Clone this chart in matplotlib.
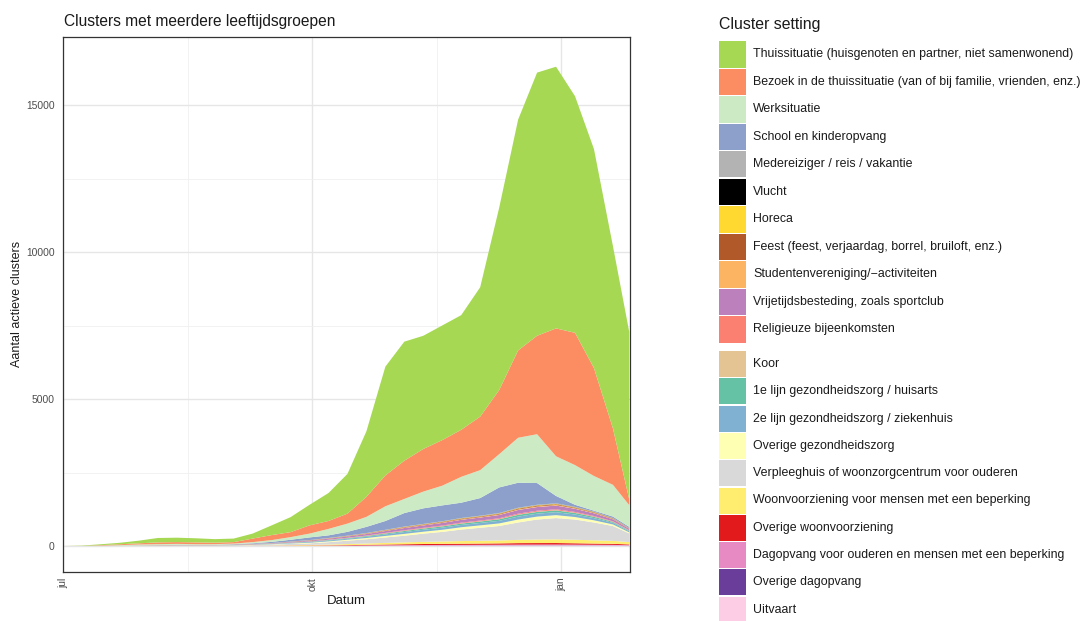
import numpy as np
import pandas as pd
import matplotlib
matplotlib.use('Agg')
import matplotlib.pyplot as plt
import matplotlib.dates as mdates
from matplotlib.patches import Rectangle

plt.rcParams['font.family'] = ['Liberation Sans', 'DejaVu Sans']

# ---------------- data (weekly readings, Jul 2020 - Jan 2021) ----------------
dates = pd.date_range('2020-07-01', periods=30, freq='7D').append(pd.DatetimeIndex(['2021-01-26']))

labels = [
    "Thuissituatie (huisgenoten en partner, niet samenwonend)",
    "Bezoek in de thuissituatie (van of bij familie, vrienden, enz.)",
    "Werksituatie",
    "School en kinderopvang",
    "Medereiziger / reis / vakantie",
    "Vlucht",
    "Horeca",
    "Feest (feest, verjaardag, borrel, bruiloft, enz.)",
    "Studentenvereniging/\u2212activiteiten",
    "Vrijetijdsbesteding, zoals sportclub",
    "Religieuze bijeenkomsten",
    "Koor",
    "1e lijn gezondheidszorg / huisarts",
    "2e lijn gezondheidszorg / ziekenhuis",
    "Overige gezondheidszorg",
    "Verpleeghuis of woonzorgcentrum voor ouderen",
    "Woonvoorziening voor mensen met een beperking",
    "Overige woonvoorziening",
    "Dagopvang voor ouderen en mensen met een beperking",
    "Overige dagopvang",
    "Uitvaart",
]

colors = ["#A6D854", "#FC8D62", "#CCEBC5", "#8DA0CB", "#B3B3B3", "#000000",
          "#FFD92F", "#B15928", "#FDB462", "#BC80BD", "#FB8072", "#E5C494",
          "#66C2A5", "#80B1D3", "#FFFFB3", "#D9D9D9", "#FFED6F", "#E31A1C",
          "#E78AC3", "#6A3D9A", "#FCCDE5"]

thuis = [0, 10, 30, 50, 90, 150, 150, 140, 120, 120, 170, 330, 510, 700, 950, 1350, 2230, 3700, 4050, 3850, 3900, 3900, 4400, 6200, 7850, 8950, 8900, 8050, 7450, 6200, 5700]
bezoek = [0, 2, 15, 30, 40, 60, 60, 60, 50, 50, 120, 170, 170, 280, 270, 340, 680, 1050, 1300, 1450, 1550, 1600, 1820, 2180, 2970, 3350, 4350, 4500, 3670, 1920, 200]
werk = [0, 3, 10, 20, 30, 30, 30, 20, 20, 20, 40, 60, 90, 130, 220, 280, 340, 500, 480, 570, 670, 880, 950, 1130, 1530, 1660, 1350, 1350, 1180, 1080, 740]
school = [0, 0, 0, 0, 0, 0, 0, 0, 0, 10, 20, 40, 60, 90, 90, 130, 210, 300, 460, 530, 540, 520, 600, 870, 850, 740, 250, 70, 30, 50, 40]
medereiziger = [0, 0, 1, 1, 3, 4, 5, 5, 5, 5, 4, 3, 3, 4, 5, 5, 6, 7, 8, 8, 9, 10, 10, 11, 12, 12, 12, 10, 9, 6, 4]
vlucht = [0, 0, 0, 0, 0, 0, 0, 0, 0, 0, 0, 0, 1, 1, 1, 2, 2, 3, 3, 3, 4, 4, 4, 4, 5, 5, 5, 4, 4, 3, 2]
horeca = [0, 0, 0, 0, 1, 1, 1, 1, 1, 1, 1, 1, 2, 3, 4, 5, 6, 8, 9, 10, 11, 12, 12, 13, 15, 15, 15, 13, 11, 8, 6]
feest = [0, 0, 1, 1, 1, 2, 3, 3, 3, 3, 2, 3, 4, 6, 7, 9, 11, 13, 16, 17, 18, 20, 21, 22, 25, 25, 25, 22, 19, 14, 10]
studenten = [0, 0, 0, 0, 0, 1, 1, 1, 1, 1, 2, 2, 3, 5, 6, 7, 8, 10, 12, 13, 14, 16, 16, 18, 20, 20, 20, 17, 15, 11, 8]
vrijetijd = [0, 0, 1, 2, 3, 5, 7, 7, 7, 8, 10, 12, 20, 27, 35, 43, 52, 64, 77, 82, 90, 97, 102, 110, 125, 125, 125, 107, 92, 68, 45]
religieus = [0, 0, 0, 0, 1, 1, 2, 2, 2, 2, 3, 3, 5, 7, 8, 10, 13, 16, 19, 20, 22, 23, 25, 26, 30, 30, 30, 26, 22, 16, 11]
koor = [0, 0, 0, 0, 0, 0, 0, 0, 0, 0, 1, 1, 2, 2, 3, 3, 4, 5, 6, 6, 7, 8, 8, 9, 10, 10, 10, 9, 7, 5, 4]
lijn1 = [0, 0, 0, 0, 1, 1, 2, 2, 2, 3, 4, 6, 10, 13, 17, 20, 25, 31, 37, 40, 43, 47, 49, 53, 60, 60, 60, 52, 44, 32, 22]
lijn2 = [0, 0, 0, 1, 2, 3, 4, 4, 4, 5, 8, 10, 16, 22, 28, 34, 42, 52, 62, 66, 72, 78, 82, 88, 100, 100, 100, 86, 74, 54, 35]
overig_gz = [0, 0, 0, 1, 2, 3, 4, 4, 4, 5, 8, 10, 16, 22, 28, 34, 42, 52, 62, 66, 72, 78, 82, 88, 100, 100, 100, 86, 74, 54, 35]
verpleeghuis = [0, 0, 2, 4, 7, 10, 11, 11, 12, 15, 20, 32, 42, 52, 79, 114, 144, 185, 225, 280, 326, 392, 442, 491, 592, 680, 724, 687, 607, 506, 296]
woonvoorz = [0, 0, 0, 0, 1, 2, 3, 3, 3, 4, 6, 10, 15, 20, 28, 36, 45, 55, 65, 72, 80, 90, 95, 100, 110, 120, 125, 120, 110, 100, 80]
overig_woon = [0, 0, 0, 0, 0, 0, 0, 0, 0, 0, 2, 3, 5, 8, 10, 14, 20, 25, 30, 35, 38, 40, 42, 45, 50, 50, 50, 45, 40, 35, 25]
dagopvang = [0, 0, 0, 0, 0, 0, 0, 0, 0, 1, 2, 3, 4, 5, 6, 8, 10, 12, 14, 15, 16, 17, 18, 18, 20, 20, 20, 18, 16, 14, 10]
overig_dag = [0, 0, 0, 0, 0, 0, 0, 0, 0, 0, 0, 0, 1, 1, 2, 2, 3, 3, 4, 4, 5, 5, 5, 6, 6, 6, 6, 6, 5, 5, 4]
uitvaart = [0, 0, 0, 0, 0, 0, 0, 0, 0, 0, 0, 2, 3, 4, 5, 6, 8, 10, 12, 14, 15, 16, 18, 20, 22, 24, 25, 24, 22, 20, 15]

series_top_to_bottom = [thuis, bezoek, werk, school, medereiziger, vlucht, horeca,
                        feest, studenten, vrijetijd, religieus, koor, lijn1, lijn2,
                        overig_gz, verpleeghuis, woonvoorz, overig_woon, dagopvang,
                        overig_dag, uitvaart]

y_ticks = [0, 5000, 10000, 15000]
x_tick_dates = ['2020-07-01', '2020-10-01', '2021-01-01']
x_tick_labels = ['jul', 'okt', 'jan']
x_minor_dates = ['2020-08-16', '2020-11-16']

# ---------------- figure ----------------
W, H = 1089, 621
fig = plt.figure(figsize=(W / 100, H / 100), dpi=100)
fig.patch.set_facecolor('white')

ax = fig.add_axes([63 / W, 1 - 572 / H, (630 - 63) / W, (572 - 37) / H])
ax.stackplot(dates, *series_top_to_bottom[::-1], colors=colors[::-1], linewidth=0)

ax.set_ylim(-884, 17313)
ax.set_xlim(pd.Timestamp('2020-07-01'), pd.Timestamp('2020-07-01') + pd.Timedelta(days=209.3))

ax.set_yticks(y_ticks)
ax.set_yticks([2500, 7500, 12500], minor=True)
ax.set_xticks(pd.to_datetime(x_tick_dates))
ax.set_xticklabels(x_tick_labels, rotation=90)
ax.set_xticks(pd.to_datetime(x_minor_dates), minor=True)

ax.set_axisbelow(True)
ax.grid(which='major', color='#E6E6E6', lw=1.0)
ax.grid(which='minor', color='#F0F0F0', lw=0.6)
ax.tick_params(which='both', length=0)
ax.tick_params(axis='y', labelsize=7.4, labelcolor='#4D4D4D', pad=6)
ax.tick_params(axis='x', labelsize=7.4, labelcolor='#4D4D4D', pad=4)
for s in ax.spines.values():
    s.set_color('#333333')
    s.set_linewidth(0.9)

fig.text(64 / W, 1 - 26 / H, 'Clusters met meerdere leeftijdsgroepen', fontsize=11.2,
         color='#1A1A1A', va='baseline', ha='left')
fig.text(346 / W, 1 - 601 / H, 'Datum', fontsize=9.5, color='#1A1A1A', ha='center', va='center')
fig.text(17 / W, 1 - 304 / H, 'Aantal actieve clusters', fontsize=9, color='#1A1A1A',
         ha='center', va='center', rotation=90)

# ---------------- legend ----------------
fig.text(719 / W, 1 - 25 / H, 'Cluster setting', fontsize=11.4, color='#1A1A1A', ha='left', va='center')
rows = []
for k in range(11):
    rows.append((41 + 27.5 * k, 26.5))
for k in range(10):
    rows.append((351 + 27.3 * k, 26.0))
for (top, h), lab, col in zip(rows, labels, colors):
    fig.patches.append(Rectangle((719 / W, 1 - (top + h) / H), 27 / W, h / H,
                                 transform=fig.transFigure, facecolor=col, edgecolor='none'))
    fig.text(753 / W, 1 - (top + h / 2) / H, lab, fontsize=8.9, color='#1A1A1A',
             ha='left', va='center')

fig.savefig('out.png', dpi=100)
